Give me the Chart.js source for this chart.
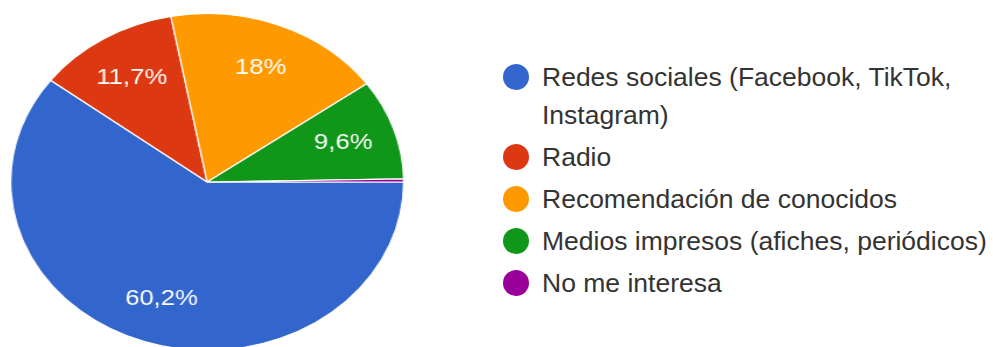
<!DOCTYPE html>
<html lang="es">
<head>
<meta charset="utf-8">
<script src="https://cdn.jsdelivr.net/npm/chart.js@4.4.1/dist/chart.umd.min.js"></script>
<style>
  html, body { margin: 0; padding: 0; background: #fff; width: 993px; height: 347px; overflow: hidden;
    font-family: Arial, "Liberation Sans", sans-serif; }
  /* la torta se estira en horizontal, como en el gráfico de Forms */
  #torta { position: absolute; left: 10px; top: 13px; width: 338px; height: 338px;
    transform: scaleX(1.1667); transform-origin: 0 0; }
  #leyenda { position: absolute; left: 503px; top: 58px; width: 490px; list-style: none; margin: 0; padding: 0; }
  #leyenda li { position: relative; padding-left: 39px; font-size: 26.5px; line-height: 38px; color: #333; margin-bottom: 4px; }
  #leyenda .punto { position: absolute; left: 0; top: 6px; width: 26px; height: 26px; border-radius: 50%; }
</style>
</head>
<body>
<div id="torta"><canvas id="grafico"></canvas></div>
<ul id="leyenda"></ul>
<script>
// Respuestas: ¿por qué medio se entera?
const categorias = [
  "Redes sociales (Facebook, TikTok, Instagram)",
  "Radio",
  "Recomendación de conocidos",
  "Medios impresos (afiches, periódicos)",
  "No me interesa"
];
const valores = [60.2, 11.7, 18, 9.6, 0.3];
const colores = ["#3366cc", "#dc3912", "#ff9900", "#109618", "#990099"];

// Porcentajes dentro de cada porción (se omiten las muy chicas)
const etiquetasPlugin = {
  id: "etiquetas",
  afterDatasetsDraw(chart) {
    const ctx = chart.ctx;
    const meta = chart.getDatasetMeta(0);
    const total = valores.reduce((a, b) => a + b, 0);
    ctx.save();
    ctx.font = '22px Arial, "Liberation Sans", sans-serif';
    ctx.fillStyle = "#fff";
    ctx.textAlign = "center";
    ctx.textBaseline = "middle";
    meta.data.forEach((arco, i) => {
      if (valores[i] / total < 0.05) return;
      const { x, y, startAngle, endAngle, outerRadius } =
        arco.getProps(["x", "y", "startAngle", "endAngle", "outerRadius"], true);
      const medio = (startAngle + endAngle) / 2;
      const r = outerRadius * 0.73;
      const texto = String(valores[i]).replace(".", ",") + "%";
      ctx.fillText(texto, x + Math.cos(medio) * r, y + Math.sin(medio) * r);
    });
    ctx.restore();
  }
};

new Chart(document.getElementById("grafico"), {
  type: "pie",
  data: {
    labels: categorias,
    datasets: [{
      data: valores,
      backgroundColor: colores,
      borderColor: "#ffffff",
      borderWidth: 1.2
    }]
  },
  options: {
    responsive: true,
    maintainAspectRatio: false,
    animation: false,
    rotation: 90, // empieza a las 3 en punto
    layout: { padding: 0 },
    plugins: {
      legend: { display: false },
      tooltip: { enabled: false }
    }
  },
  plugins: [etiquetasPlugin]
});

// Leyenda a la derecha
const leyenda = document.getElementById("leyenda");
categorias.forEach((nombre, i) => {
  const li = document.createElement("li");
  const punto = document.createElement("span");
  punto.className = "punto";
  punto.style.background = colores[i];
  li.appendChild(punto);
  li.appendChild(document.createTextNode(nombre));
  leyenda.appendChild(li);
});
</script>
</body>
</html>
